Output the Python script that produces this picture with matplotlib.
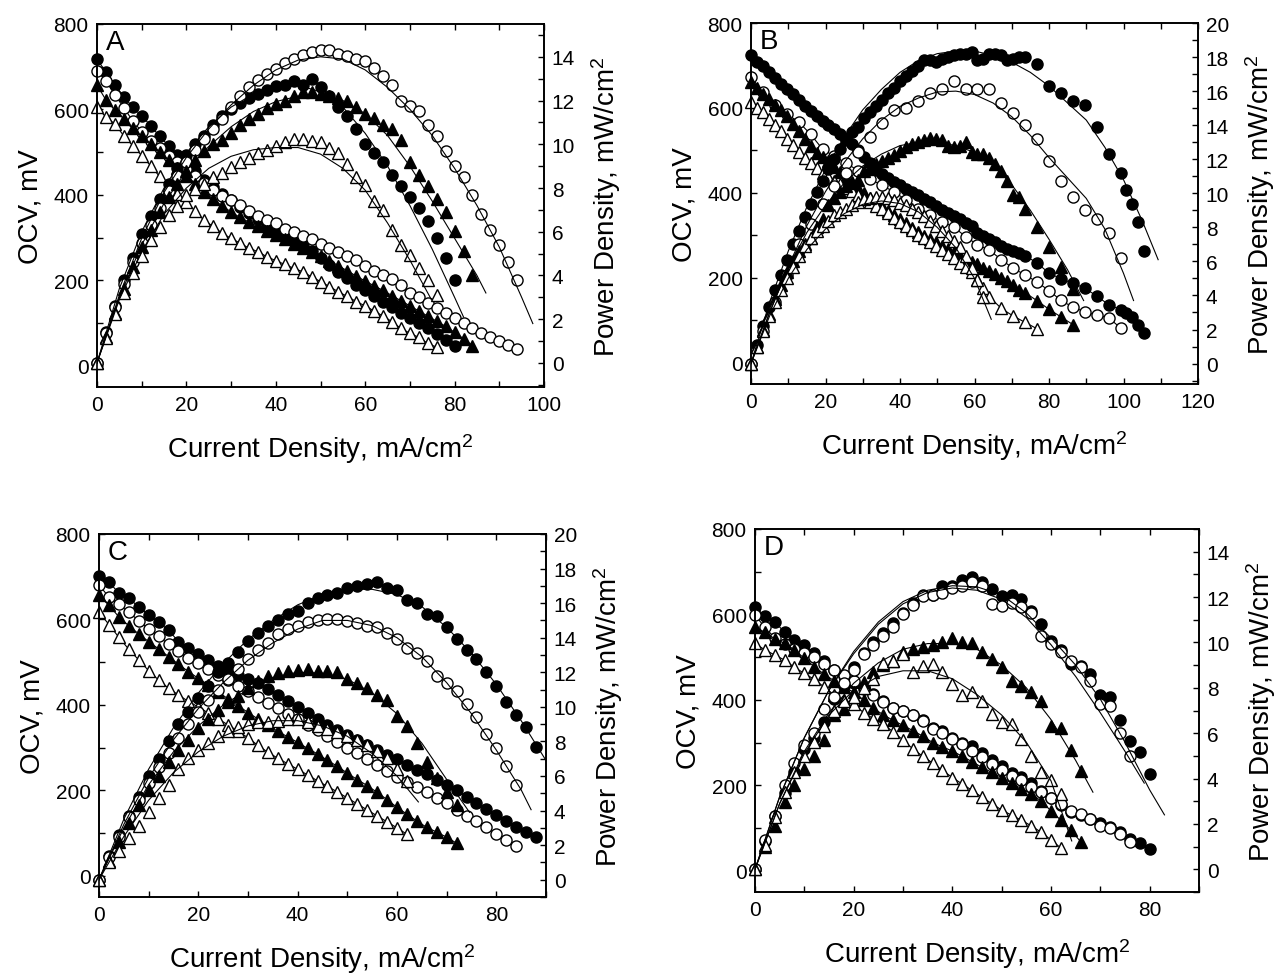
import matplotlib
matplotlib.use("Agg")
import matplotlib.pyplot as plt
from matplotlib.ticker import MultipleLocator

plt.rcParams['font.family'] = ['Liberation Sans', 'DejaVu Sans']
plt.rcParams['mathtext.fontset'] = 'custom'
plt.rcParams['mathtext.rm'] = 'Liberation Sans'
plt.rcParams['mathtext.it'] = 'Liberation Sans:italic'

# ---------------- panel A ----------------
A_x_fc = list(range(0, 82, 2))
A_v_fc = [717, 688, 657, 630, 605, 585, 562, 537, 515, 493,
          473, 455, 435, 418, 402, 388, 372, 357, 343, 330,
          316, 302, 292, 280, 268, 253, 236, 220, 205, 190,
          176, 162, 150, 137, 124, 112, 100, 88, 75, 60, 45]
A_p_fc = [0, 1.4, 2.6, 3.8, 4.8, 5.9, 6.7, 7.5, 8.2, 8.9,
          9.5, 10.0, 10.4, 10.9, 11.3, 11.6, 11.9, 12.1, 12.3, 12.5,
          12.65, 12.7, 12.9, 12.7, 13.0, 12.6, 12.2, 11.7, 11.3, 10.7,
          10.0, 9.6, 9.2, 8.6, 8.1, 7.6, 7.1, 6.5, 5.7, 4.8, 3.8]
A_x_oc = list(range(0, 96, 2))
A_v_oc = [690, 667, 634, 604, 573, 548, 526, 509, 491, 476,
          461, 444, 428, 412, 398, 388, 376, 362, 350, 340,
          334, 320, 313, 304, 296, 286, 276, 266, 257, 247,
          233, 222, 212, 202, 188, 170, 160, 147, 135, 124,
          112, 100, 88, 77, 67, 58, 48, 38]
A_p_oc = [0, 1.35, 2.55, 3.6, 4.6, 5.5, 6.3, 7.1, 7.85, 8.55,
          9.2, 9.75, 10.25, 10.7, 11.15, 11.7, 12.2, 12.6, 12.95, 13.2,
          13.45, 13.7, 13.9, 14.1, 14.2, 14.3, 14.3, 14.15, 14.05, 13.9,
          13.8, 13.5, 13.1, 12.7, 12.0, 11.75, 11.5, 10.9, 10.4, 9.7,
          9.0, 8.5, 7.7, 6.8, 6.1, 5.4, 4.6, 3.8]
A_x_ft = list(range(0, 86, 2))
A_v_ft = [657, 622, 598, 578, 556, 537, 520, 500, 482, 462,
          443, 425, 407, 390, 374, 360, 347, 336, 326, 315,
          306, 296, 286, 276, 266, 256, 246, 234, 222, 210,
          198, 187, 176, 164, 152, 140, 128, 116, 104, 92,
          78, 63, 47]
A_p_ft = [0, 1.2, 2.3, 3.4, 4.4, 5.3, 6.1, 6.9, 7.6, 8.2,
          8.8, 9.3, 9.7, 10.0, 10.2, 10.5, 10.9, 11.15, 11.4, 11.65,
          11.85, 12.0, 12.2, 12.4, 12.4, 12.3, 12.2, 12.1, 12.0, 11.7,
          11.4, 11.2, 10.9, 10.7, 10.2, 9.2, 8.6, 8.1, 7.5, 6.9,
          6.05, 5.1, 4.0]
A_x_ot = list(range(0, 78, 2))
A_v_ot = [605, 582, 566, 538, 515, 492, 468, 443, 422, 401,
          384, 361, 340, 326, 310, 298, 287, 275, 267, 255,
          246, 237, 228, 220, 208, 197, 185, 173, 162, 150,
          140, 128, 116, 103, 87, 76, 66, 52, 43]
A_p_ot = [0, 1.15, 2.25, 3.2, 4.1, 4.9, 5.6, 6.2, 6.75, 7.2,
          7.7, 7.95, 8.2, 8.5, 8.7, 8.95, 9.2, 9.35, 9.6, 9.75,
          9.9, 10.1, 10.25, 10.25, 10.15, 10.1, 9.85, 9.6, 9.1, 8.5,
          8.15, 7.4, 7.0, 6.1, 5.4, 4.95, 4.35, 3.8, 3.1]
A_fx_fc = [0, 5, 10, 15, 20, 25, 30, 35, 40, 45, 50, 55, 60, 65, 70, 75, 80, 82]
A_fp_fc = [0, 3.4, 6.0, 8.0, 9.6, 10.8, 11.7, 12.3, 12.6, 12.7, 12.4, 11.7, 10.5, 9.0, 7.2, 5.2, 3.0, 2.1]
A_fx_oc = [0, 5, 10, 15, 20, 25, 30, 35, 40, 45, 50, 55, 60, 65, 70, 75, 80, 85, 90, 95, 97.5]
A_fp_oc = [0, 3.1, 5.7, 7.8, 9.4, 10.7, 11.8, 12.7, 13.4, 13.85, 14.0, 13.9, 13.4, 12.6, 11.6, 10.4, 8.9, 7.2, 5.3, 3.0, 1.8]
A_fx_ft = [0, 5, 10, 15, 20, 25, 30, 35, 40, 45, 50, 55, 60, 65, 70, 75, 80, 85, 87]
A_fp_ft = [0, 3.0, 5.4, 7.3, 8.8, 9.9, 10.8, 11.5, 11.95, 12.2, 12.2, 12.0, 11.4, 10.4, 9.0, 7.4, 5.7, 4.0, 3.2]
A_fx_ot = [0, 5, 10, 15, 20, 25, 30, 35, 40, 45, 50, 55, 60, 65, 70, 74.8]
A_fp_ot = [0, 2.9, 5.1, 6.8, 8.0, 8.9, 9.45, 9.75, 9.85, 9.85, 9.55, 8.9, 7.9, 6.4, 4.7, 2.9]

# ---------------- panel B ----------------
B_x_fc = [0, 1.6, 3.2, 4.8, 6.4, 8, 9.6, 11.2, 12.8, 14.4,
          16, 17.6, 19.2, 20.8, 22.4, 24, 25.6, 27.2, 28.8, 30.4,
          32, 33.6, 35.2, 36.8, 38.4, 40, 41.6, 43.2, 44.8, 46.4,
          48, 49.6, 51.2, 52.8, 54.4, 56, 57.6, 59.2, 60.8, 62.4,
          64, 65.6, 67.2, 68.8, 70.4, 72, 73.6,
          76.8, 80, 83.2, 86.4, 89.6, 92.8, 96, 99.2, 100.8, 102.4, 104, 105.6]
B_v_fc = [725, 708, 698, 685, 670, 657, 645, 632, 618, 604,
          592, 580, 570, 560, 550, 538, 528, 515, 500, 485,
          470, 455, 445, 435, 426, 418, 410, 402, 394, 386,
          378, 370, 360, 352, 345, 338, 330, 322, 306, 298,
          292, 285, 276, 268, 262, 258, 252,
          235, 211, 198, 187, 176, 157, 137, 125, 116, 107, 90, 71]
B_p_fc = [0, 1.1, 2.2, 3.3, 4.3, 5.2, 6.1, 7.0, 7.8, 8.6,
          9.4, 10.1, 10.7, 11.4, 12.0, 12.6, 13.1, 13.6, 13.9, 14.4,
          14.8, 15.1, 15.5, 15.9, 16.2, 16.6, 16.9, 17.2, 17.5, 17.8,
          17.8, 17.7, 17.9, 18.0, 18.1, 18.2, 18.2, 18.3, 17.8, 17.9,
          18.2, 18.2, 18.1, 17.8, 17.9, 18.0, 18.0,
          17.6, 16.3, 15.9, 15.4, 15.2, 13.9, 12.3, 11.2, 10.2, 9.35, 8.3, 6.6]
B_x_oc = [0, 3.2, 6.4, 9.6, 12.8, 16, 19.2, 22.4, 25.6, 28.8,
          32, 35.2, 38.4, 41.6, 44.8, 48, 51.2, 54.4, 57.6, 60.8,
          64, 67.2, 70.4, 73.6, 76.8, 80, 83.2, 86.4, 89.6, 92.8, 96, 99.2]
B_v_oc = [673, 637, 606, 586, 567, 538, 503, 486, 470, 452,
          432, 418, 402, 384, 362, 347, 332, 320, 297, 278,
          265, 243, 222, 207, 190, 170, 147, 131, 120, 112, 106, 82]
B_p_oc = [0, 1.9, 3.6, 5.2, 7.0, 8.2, 9.4, 10.4, 11.2, 12.4,
          13.3, 14.1, 14.9, 15.0, 15.4, 15.9, 16.1, 16.6, 16.1, 16.1,
          16.1, 15.3, 14.7, 14.0, 13.2, 11.9, 10.7, 9.8, 9.0, 8.5, 7.65, 6.2]
B_x_ft = [0, 1.6, 3.2, 4.8, 6.4, 8, 9.6, 11.2, 12.8, 14.4,
          16, 17.6, 19.2, 20.8, 22.4, 24, 25.6, 27.2, 28.8, 30.4,
          32, 33.6, 35.2, 36.8, 38.4, 40, 41.6, 43.2, 44.8, 46.4,
          48, 49.6, 51.2, 52.8, 54.4, 56, 57.6, 59.2, 60.8, 62.4,
          64, 65.6, 67.2, 68.8, 70.4, 72, 73.6,
          76.8, 80, 83.2, 86.4]
B_v_ft = [660, 648, 632, 620, 608, 596, 580, 563, 545, 528,
          510, 495, 485, 474, 462, 450, 438, 425, 412, 400,
          388, 378, 368, 358, 348, 338, 328, 318, 308, 299,
          291, 284, 276, 268, 260, 252, 245, 238, 232, 224,
          216, 208, 200, 192, 183, 172, 165,
          146, 126, 108, 90]
B_p_ft = [0, 1.0, 2.0, 2.9, 3.8, 4.6, 5.4, 6.0, 6.6, 7.0,
          7.4, 8.0, 8.5, 9.3, 9.7, 10.1, 10.4, 10.6, 10.8, 11.3,
          11.4, 11.7, 11.9, 12.05, 12.25, 12.5, 12.7, 12.9, 13.0, 13.1,
          13.25, 13.2, 13.1, 12.8, 12.7, 12.8, 13.0, 12.4, 12.3, 12.3,
          12.05, 11.7, 11.3, 10.7, 9.9, 9.8, 9.05,
          8.0, 6.85, 5.7, 4.35]
B_x_ot = [0, 1.6, 3.2, 4.8, 6.4, 8, 9.6, 11.2, 12.8, 14.4,
          16, 17.6, 19.2, 20.8, 22.4, 24, 25.6, 27.2, 28.8, 30.4,
          32, 33.6, 35.2, 36.8, 38.4, 40, 41.6, 43.2, 44.8, 46.4,
          48, 49.6, 51.2, 52.8, 54.4, 56, 57.6, 59.2, 60.8, 62.4,
          64, 67.2, 70.4, 73.6, 76.8]
B_v_ot = [613, 600, 590, 575, 560, 545, 528, 512, 497, 483,
          470, 458, 447, 437, 428, 420, 412, 404, 396, 388,
          379, 370, 361, 352, 342, 332, 322, 312, 302, 293,
          284, 275, 265, 256, 246, 236, 225, 213, 195, 175,
          155, 128, 110, 95, 80]
B_xp_ot = B_x_ot[:40]
B_p_ot = [0, 1.0, 1.9, 2.8, 3.6, 4.3, 5.0, 5.7, 6.3, 6.9,
          7.4, 7.8, 8.1, 8.4, 8.7, 8.9, 9.1, 9.3, 9.5, 9.65,
          9.75, 9.8, 9.8, 9.7, 9.6, 9.45, 9.3, 9.1, 8.9, 8.65,
          8.4, 8.1, 7.8, 7.5, 7.2, 6.85, 6.3, 5.6, 4.9, 3.9]
B_fx_fc = [0, 5, 10, 15, 20, 25, 30, 35, 40, 45, 50, 55, 60, 65, 70, 75, 80, 85, 90, 95, 100, 105, 109.3]
B_fp_fc = [0, 3.6, 6.6, 9.2, 11.4, 13.3, 14.9, 16.1, 17.1, 17.8, 18.2, 18.35, 18.35, 18.1, 17.7, 17.1, 16.3, 15.3, 14.3, 12.7, 10.8, 8.4, 6.1]
B_fx_oc = [0, 5, 10, 15, 20, 25, 30, 35, 40, 45, 50, 55, 60, 65, 70, 75, 80, 85, 90, 95, 100, 102.7]
B_fp_oc = [0, 3.0, 5.7, 8.1, 10.1, 11.8, 13.2, 14.3, 15.1, 15.6, 15.95, 16.0, 15.8, 15.3, 14.5, 13.4, 12.1, 10.9, 9.7, 7.9, 5.3, 3.7]
B_fx_ft = [0, 5, 10, 15, 20, 25, 30, 35, 40, 45, 50, 55, 60, 65, 70, 75, 80, 85, 89.3]
B_fp_ft = [0, 3.0, 5.6, 7.7, 9.3, 10.6, 11.6, 12.3, 12.8, 13.0, 13.0, 12.8, 12.4, 11.7, 10.5, 9.0, 7.3, 5.5, 3.7]
B_fx_ot = [0, 5, 10, 15, 20, 25, 30, 35, 40, 45, 50, 55, 60, 64.5]
B_fp_ot = [0, 2.8, 5.0, 6.7, 7.9, 8.8, 9.35, 9.55, 9.4, 8.9, 8.0, 6.8, 5.0, 2.6]

# ---------------- panel C ----------------
C_x_fc = list(range(0, 90, 2))
C_v_fc = [701, 687, 662, 650, 629, 611, 593, 575, 548, 534,
          520, 505, 492, 480, 470, 460, 450, 437, 423, 409,
          395, 380, 366, 353, 342, 330, 318, 307, 295, 283,
          272, 259, 248, 237, 225, 212, 200, 185, 170, 155,
          141, 128, 115, 103, 91]
C_p_fc = [0, 1.4, 2.6, 3.7, 4.8, 6.0, 7.0, 8.0, 9.0, 9.7,
          10.5, 11.2, 12.0, 12.55, 13.2, 13.8, 14.25, 14.7, 15.0, 15.35,
          15.55, 16.0, 16.3, 16.5, 16.6, 16.85, 17.0, 17.1, 17.25, 16.9,
          16.75, 16.2, 16.0, 15.35, 15.25, 14.6, 13.9, 13.3, 12.75, 12.0,
          11.2, 10.3, 9.55, 8.85, 7.7]
C_x_oc = list(range(0, 86, 2))
C_v_oc = [681, 652, 635, 617, 597, 578, 560, 542, 525, 510,
          497, 484, 471, 458, 445, 432, 418, 405, 392, 379,
          366, 353, 340, 327, 314, 300, 287, 272, 258, 245,
          232, 220, 208, 196, 182, 169, 154, 140, 128, 113,
          97, 84, 70]
C_p_oc = [0, 1.3, 2.5, 3.6, 4.6, 5.6, 6.5, 7.35, 8.2, 9.0,
          9.7, 10.4, 11.0, 11.6, 12.2, 12.75, 13.3, 13.7, 14.2, 14.5,
          14.7, 14.9, 15.0, 15.1, 15.07, 14.98, 14.84, 14.7, 14.6, 14.3,
          13.95, 13.4, 13.1, 12.65, 11.8, 11.4, 10.9, 10.15, 9.4, 8.45,
          7.6, 6.6, 5.5]
C_x_ft = list(range(0, 74, 2))
C_v_ft = [656, 633, 606, 585, 566, 548, 531, 513, 495, 478,
          462, 446, 430, 414, 398, 382, 367, 352, 338, 325,
          312, 298, 285, 270, 256, 240, 225, 211, 195, 178,
          160, 144, 128, 113, 102, 90, 76]
C_p_ft = [0, 1.1, 2.2, 3.3, 4.3, 5.2, 6.0, 6.8, 7.5, 8.1,
          8.8, 9.3, 9.8, 10.3, 10.6, 11.1, 11.5, 11.8, 11.95, 12.05,
          12.15, 12.2, 12.1, 12.1, 12.0, 11.6, 11.4, 11.1, 10.7, 10.4,
          9.5, 8.9, 7.9, 6.8, 5.9, 5.1, 4.3]
C_x_ot = list(range(0, 64, 2))
C_v_ot = [617, 588, 558, 530, 505, 480, 458, 439, 423, 408,
          395, 381, 367, 353, 338, 323, 305, 289, 275, 262,
          249, 236, 222, 209, 196, 182, 168, 154, 140, 126,
          112, 97]
C_p_ot = [0, 1.05, 1.65, 2.4, 3.1, 3.9, 4.7, 5.5, 6.4, 7.05,
          7.5, 7.9, 8.3, 8.6, 8.85, 9.0, 9.1, 9.1, 9.2, 9.3,
          9.3, 9.1, 8.9, 8.7, 8.55, 8.3, 8.1, 7.8, 7.45, 7.05,
          6.4, 5.7]
C_fx_fc = [0, 5, 10, 15, 20, 25, 30, 35, 40, 45, 50, 55, 60, 65, 70, 75, 80, 85, 90]
C_fp_fc = [0, 3.5, 6.4, 8.8, 10.8, 12.5, 13.9, 15.0, 15.9, 16.5, 16.8, 16.8, 16.5, 15.8, 14.6, 13.1, 11.3, 9.2, 6.9]
C_fx_oc = [0, 5, 10, 15, 20, 25, 30, 35, 40, 45, 50, 55, 60, 65, 70, 75, 80, 85, 87]
C_fp_oc = [0, 3.2, 5.9, 8.1, 9.9, 11.4, 12.7, 13.7, 14.5, 15.0, 15.0, 14.7, 14.0, 12.9, 11.4, 9.6, 7.5, 5.2, 4.05]
C_fx_ft = [0, 5, 10, 15, 20, 25, 30, 35, 40, 45, 50, 55, 60, 65, 70, 74.6]
C_fp_ft = [0, 3.0, 5.5, 7.4, 8.9, 10.1, 11.0, 11.7, 12.0, 11.95, 11.6, 10.8, 9.6, 7.9, 5.8, 3.9]
C_fx_ot = [0, 5, 10, 15, 20, 25, 30, 35, 40, 45, 50, 55, 60, 64.3]
C_fp_ot = [0, 2.5, 4.6, 6.2, 7.4, 8.3, 8.9, 9.2, 9.2, 8.9, 8.3, 7.3, 6.0, 4.5]

# ---------------- panel D ----------------
D_x_fc = list(range(0, 82, 2))
D_v_fc = [618, 596, 583, 558, 540, 528, 510, 490, 470, 455,
          440, 425, 413, 397, 382, 373, 365, 353, 335, 327,
          311, 299, 291, 276, 260, 245, 229, 220, 205, 186,
          170, 154, 138, 130, 122, 111, 102, 90, 75, 64, 50]
D_p_fc = [0, 1.25, 2.35, 3.35, 4.3, 5.3, 5.8, 6.5, 7.5, 8.1,
          8.9, 9.55, 10.0, 10.4, 10.85, 11.3, 11.75, 12.1, 12.1, 12.5,
          12.5, 12.75, 12.87, 12.65, 12.35, 12.05, 12.1, 11.9, 11.4, 10.8,
          10.05, 9.65, 9.05, 8.95, 8.6, 7.7, 7.6, 6.6, 5.65, 5.15, 4.2]
D_x_oc = list(range(0, 78, 2))
D_v_oc = [598, 570, 545, 530, 520, 510, 500, 485, 470, 457,
          445, 430, 412, 395, 380, 373, 364, 350, 332, 322,
          308, 296, 280, 265, 250, 235, 222, 213, 197, 184,
          170, 157, 140, 133, 122, 104, 100, 85, 68]
D_p_oc = [0, 1.3, 2.35, 3.7, 4.7, 5.5, 6.0, 7.05, 7.6, 8.2,
          8.8, 9.5, 9.9, 10.3, 10.7, 11.25, 11.65, 12.05, 12.1, 12.2,
          12.4, 12.5, 12.65, 12.5, 11.7, 11.6, 11.75, 11.55, 11.3, 10.3,
          9.95, 9.6, 9.2, 8.9, 8.3, 7.3, 7.2, 6.0, 5.0]
D_x_ft = list(range(0, 68, 2))
D_v_ft = [571, 558, 543, 532, 517, 497, 478, 460, 445, 430,
          418, 400, 380, 365, 352, 340, 328, 315, 300, 290,
          280, 268, 255, 242, 230, 218, 205, 192, 180, 163,
          140, 118, 95, 68]
D_p_ft = [0, 1.0, 1.9, 2.95, 3.7, 4.4, 5.0, 5.7, 6.8, 7.05,
          7.6, 8.25, 8.7, 9.0, 9.2, 9.6, 9.7, 9.8, 9.9, 10.0,
          10.2, 10.0, 9.97, 9.6, 9.25, 8.9, 8.3, 8.1, 7.8, 7.4,
          6.3, 6.25, 5.25, 4.35]
D_x_ot = list(range(0, 64, 2))
D_v_ot = [532, 517, 505, 493, 476, 462, 448, 430, 412, 400,
          390, 370, 356, 343, 325, 306, 285, 268, 252, 235,
          218, 203, 188, 172, 157, 142, 130, 118, 105, 90,
          72, 53]
D_p_ot = [0, 1.05, 2.3, 3.4, 4.3, 5.0, 5.6, 6.3, 7.0, 7.4,
          7.6, 8.0, 8.4, 9.1, 9.2, 9.5, 8.7, 8.95, 9.05, 8.7,
          8.15, 7.7, 7.8, 7.4, 6.85, 6.5, 6.4, 5.75, 5.0, 4.3,
          3.95, 3.3]
D_fx_fc = [0, 5, 10, 15, 20, 25, 30, 35, 40, 45, 50, 55, 60, 65, 70, 75, 80, 83]
D_fp_fc = [0, 3.2, 5.8, 7.9, 9.6, 10.9, 11.8, 12.3, 12.5, 12.45, 12.1, 11.3, 10.2, 9.0, 7.5, 5.6, 3.5, 2.4]
D_fx_oc = [0, 5, 10, 15, 20, 25, 30, 35, 40, 45, 50, 55, 60, 65, 70, 75, 78.9]
D_fp_oc = [0, 3.2, 5.8, 7.9, 9.5, 10.8, 11.7, 12.2, 12.4, 12.3, 11.9, 11.1, 9.9, 8.5, 6.9, 5.2, 3.8]
D_fx_ft = [0, 5, 10, 15, 20, 25, 30, 35, 40, 45, 50, 55, 60, 65, 68.5]
D_fp_ft = [0, 2.9, 5.2, 6.9, 8.2, 9.1, 9.7, 9.95, 9.95, 9.7, 9.0, 8.0, 6.6, 4.8, 3.4]
D_fx_ot = [0, 5, 10, 15, 20, 25, 30, 35, 40, 45, 50, 55, 60, 64.2]
D_fp_ot = [0, 2.9, 5.1, 6.8, 7.9, 8.5, 8.75, 8.75, 8.4, 7.7, 6.8, 5.6, 3.9, 1.25]

MARKERS = {'fc': ('o', 'black'), 'oc': ('o', 'white'),
           'ft': ('^', 'black'), 'ot': ('^', 'white')}

W, H = 1286, 979
fig = plt.figure(figsize=(W / 100, H / 100), dpi=100)


def draw_panel(box, letter, xmax, pmin, pmax, ptop, series, fits):
    left, top, right, bottom = box
    ax = fig.add_axes([left / W, 1 - bottom / H, (right - left) / W, (bottom - top) / H])
    ax2 = ax.twinx()
    for key, x, v, xp, p in series:
        m, face = MARKERS[key]
        ax.plot(x, v, '-', color='black', lw=0.8, marker=m, ms=8,
                mfc=face, mec='black', mew=1.0, clip_on=False)
        ax2.plot(xp, p, ls='none', marker=m, ms=8, mfc=face, mec='black',
                 mew=1.0, clip_on=False)
    for fx, fp in fits:
        ax2.plot(fx, fp, '-', color='black', lw=0.8)

    ax.set_xlim(0, xmax)
    ax.set_ylim(-50, 800)
    ax2.set_ylim(pmin, pmax)
    ax.xaxis.set_major_locator(MultipleLocator(20))
    ax.xaxis.set_minor_locator(MultipleLocator(10))
    ax.yaxis.set_major_locator(MultipleLocator(200))
    ax.yaxis.set_minor_locator(MultipleLocator(100))
    ax2.set_yticks(range(0, ptop + 1, 2))
    ax2.yaxis.set_minor_locator(MultipleLocator(1))
    ax.set_yticks(range(0, 801, 200))
    ax.tick_params(which='both', direction='in', top=True, right=False,
                   length=4, width=1, labelsize=15, pad=6)
    ax2.tick_params(which='both', direction='in', length=4, width=1,
                    labelsize=15, pad=5.5)
    for a in (ax, ax2):
        for s in a.spines.values():
            s.set_linewidth(1.2)
    ax.set_xlabel('Current Density, mA/cm$^2$', fontsize=20, labelpad=12)
    ax.set_ylabel('OCV, mV', fontsize=20, labelpad=7)
    ax2.set_ylabel('Power Density, mW/cm$^2$', fontsize=20, labelpad=10)
    ax.text(0.02, 0.985, letter, transform=ax.transAxes, ha='left', va='top', fontsize=20)


draw_panel((97, 25, 544, 388), 'A', 100, -1.1, 15.5, 14,
           [('fc', A_x_fc, A_v_fc, A_x_fc, A_p_fc),
            ('oc', A_x_oc, A_v_oc, A_x_oc, A_p_oc),
            ('ft', A_x_ft, A_v_ft, A_x_ft, A_p_ft),
            ('ot', A_x_ot, A_v_ot, A_x_ot, A_p_ot)],
           [(A_fx_fc, A_fp_fc), (A_fx_oc, A_fp_oc), (A_fx_ft, A_fp_ft), (A_fx_ot, A_fp_ot)])

draw_panel((751, 24, 1198, 385), 'B', 120, -1.2, 20, 20,
           [('fc', B_x_fc, B_v_fc, B_x_fc, B_p_fc),
            ('oc', B_x_oc, B_v_oc, B_x_oc, B_p_oc),
            ('ft', B_x_ft, B_v_ft, B_x_ft, B_p_ft),
            ('ot', B_x_ot, B_v_ot, B_xp_ot, B_p_ot)],
           [(B_fx_fc, B_fp_fc), (B_fx_oc, B_fp_oc), (B_fx_ft, B_fp_ft), (B_fx_ot, B_fp_ot)])

draw_panel((99, 535, 546, 898), 'C', 90, -1, 20, 20,
           [('fc', C_x_fc, C_v_fc, C_x_fc, C_p_fc),
            ('oc', C_x_oc, C_v_oc, C_x_oc, C_p_oc),
            ('ft', C_x_ft, C_v_ft, C_x_ft, C_p_ft),
            ('ot', C_x_ot, C_v_ot, C_x_ot, C_p_ot)],
           [(C_fx_fc, C_fp_fc), (C_fx_oc, C_fp_oc), (C_fx_ft, C_fp_ft), (C_fx_ot, C_fp_ot)])

draw_panel((755, 530, 1199, 893), 'D', 90, -1, 15, 14,
           [('fc', D_x_fc, D_v_fc, D_x_fc, D_p_fc),
            ('oc', D_x_oc, D_v_oc, D_x_oc, D_p_oc),
            ('ft', D_x_ft, D_v_ft, D_x_ft, D_p_ft),
            ('ot', D_x_ot, D_v_ot, D_x_ot, D_p_ot)],
           [(D_fx_fc, D_fp_fc), (D_fx_oc, D_fp_oc), (D_fx_ft, D_fp_ft), (D_fx_ot, D_fp_ot)])

fig.savefig('out.png', dpi=100)
